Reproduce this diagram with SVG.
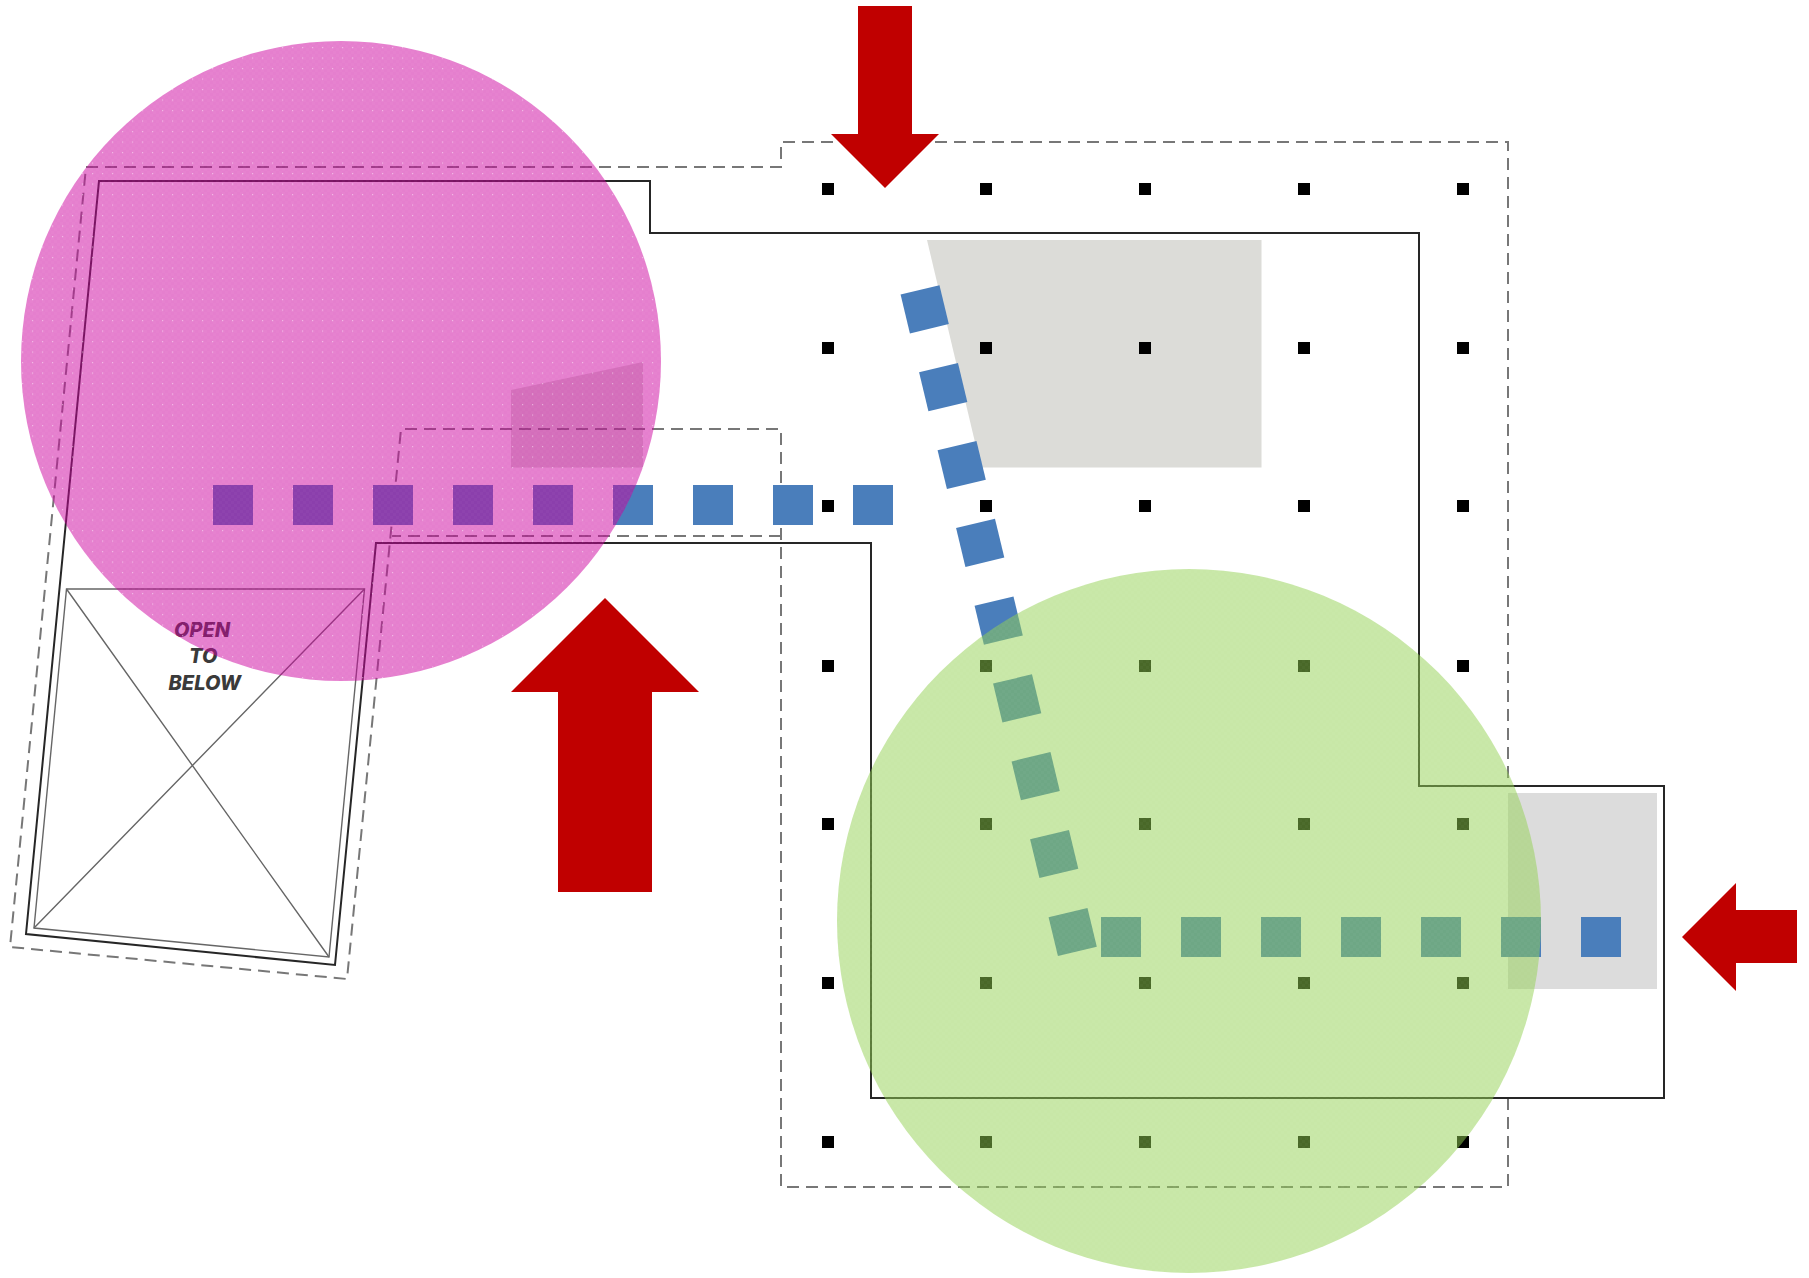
<svg xmlns="http://www.w3.org/2000/svg" width="1809" height="1278" viewBox="0 0 1809 1278">
<style>
.solid{fill:none;stroke:#262626;stroke-width:2}
.dash{fill:none;stroke:#777;stroke-width:2;stroke-dasharray:12 7}
.thin{fill:none;stroke:#666;stroke-width:1.4}
.col{fill:#000}
.blue{fill:#4a7ebb}
.red{fill:#c00000}
.lbl{font-family:Inter,Roboto,"Liberation Sans",sans-serif;font-weight:800;font-style:italic;font-size:20px;fill:#3a3a3a}
</style>
<defs>
<rect id="c" x="-6" y="-6" width="12" height="12"/>
<rect id="s" x="-20" y="-20" width="40" height="40"/>
<pattern id="pinkC" patternUnits="userSpaceOnUse" width="6" height="6">
<rect width="6" height="6" fill="#cc009e" fill-opacity=".5"/>
<rect width="3" height="3" fill="#fff" fill-opacity=".025"/>
<rect x="3" y="3" width="3" height="3" fill="#fff" fill-opacity=".025"/>
</pattern>
<pattern id="pinkD" patternUnits="userSpaceOnUse" width="10" height="10.500" x="2" y="5">
<rect width="1.200" height="1.200" fill="#fff" fill-opacity=".45"/>
</pattern>
<pattern id="greenC" patternUnits="userSpaceOnUse" width="6" height="6">
<rect width="6" height="6" fill="#92d050" fill-opacity=".5"/>
<rect width="3" height="3" fill="#fff" fill-opacity=".025"/>
<rect x="3" y="3" width="3" height="3" fill="#fff" fill-opacity=".025"/>
</pattern>
<mask id="noSq" maskUnits="userSpaceOnUse" x="0" y="0" width="1809" height="1278">
<rect width="1809" height="1278" fill="#fff"/>
<path fill="#000" d="M213,485h40v40h-40zM293,485h40v40h-40zM373,485h40v40h-40zM453,485h40v40h-40zM533,485h40v40h-40zM613,485h40v40h-40z"/>
</mask>
</defs>
<g id="floors">
<polygon id="floor-a" points="927,240 1261.500,240 1261.500,467.500 981,467.500" fill="#dcdcd8"/>
<polygon id="floor-b" points="511,390 643,362 643,467.500 511,467.500" fill="#dcdcd8"/>
<rect id="floor-c" x="1508" y="793" width="149" height="196" fill="#dcdcdc"/>
</g>
<g id="connectors">
<path class="dash" d="M86,167H781V142H1508V786"/>
<path class="dash" d="M1508,1098V1187H781V429H401L347,979L10,947L86,167"/>
<path class="dash" d="M781,536H392"/>
<path class="solid" d="M99,181H650V233H1419V786H1664V1098H871V543H376L335,965L26,934Z"/>
</g>
<g id="void">
<polygon class="thin" points="66.500,589 364.500,589 329,957 34,928"/>
<path class="thin" d="M66.500,589L329,957M364.500,589L34,928"/>
<text class="lbl" x="174" y="637">OPEN</text>
<text class="lbl" x="189" y="663">TO</text>
<text class="lbl" x="168.500" y="690">BELOW</text>
</g>
<g id="columns" class="col">
<use href="#c" x="828" y="189"/><use href="#c" x="986" y="189"/><use href="#c" x="1145" y="189"/><use href="#c" x="1304" y="189"/><use href="#c" x="1463" y="189"/>
<use href="#c" x="828" y="348"/><use href="#c" x="986" y="348"/><use href="#c" x="1145" y="348"/><use href="#c" x="1304" y="348"/><use href="#c" x="1463" y="348"/>
<use href="#c" x="828" y="506"/><use href="#c" x="986" y="506"/><use href="#c" x="1145" y="506"/><use href="#c" x="1304" y="506"/><use href="#c" x="1463" y="506"/>
<use href="#c" x="828" y="666"/><use href="#c" x="986" y="666"/><use href="#c" x="1145" y="666"/><use href="#c" x="1304" y="666"/><use href="#c" x="1463" y="666"/>
<use href="#c" x="828" y="824"/><use href="#c" x="986" y="824"/><use href="#c" x="1145" y="824"/><use href="#c" x="1304" y="824"/><use href="#c" x="1463" y="824"/>
<use href="#c" x="828" y="983"/><use href="#c" x="986" y="983"/><use href="#c" x="1145" y="983"/><use href="#c" x="1304" y="983"/><use href="#c" x="1463" y="983"/>
<use href="#c" x="828" y="1142"/><use href="#c" x="986" y="1142"/><use href="#c" x="1145" y="1142"/><use href="#c" x="1304" y="1142"/><use href="#c" x="1463" y="1142"/>
</g>
<g id="route" class="blue">
<use href="#s" x="233" y="505"/><use href="#s" x="313" y="505"/><use href="#s" x="393" y="505"/><use href="#s" x="473" y="505"/><use href="#s" x="553" y="505"/><use href="#s" x="633" y="505"/><use href="#s" x="713" y="505"/><use href="#s" x="793" y="505"/><use href="#s" x="873" y="505"/>
<use href="#s" transform="translate(924.700 309.300) rotate(-13.500)"/>
<use href="#s" transform="translate(943.200 387.100) rotate(-13.500)"/>
<use href="#s" transform="translate(961.700 465) rotate(-13.500)"/>
<use href="#s" transform="translate(980.200 542.800) rotate(-13.500)"/>
<use href="#s" transform="translate(998.700 620.600) rotate(-13.500)"/>
<use href="#s" transform="translate(1017.200 698.400) rotate(-13.500)"/>
<use href="#s" transform="translate(1035.700 776.200) rotate(-13.500)"/>
<use href="#s" transform="translate(1054.200 854) rotate(-13.500)"/>
<use href="#s" transform="translate(1072.700 932) rotate(-13.500)"/>
<use href="#s" x="1121" y="937"/><use href="#s" x="1201" y="937"/><use href="#s" x="1281" y="937"/><use href="#s" x="1361" y="937"/><use href="#s" x="1441" y="937"/><use href="#s" x="1521" y="937"/><use href="#s" x="1601" y="937"/>
</g>
<g id="zone-public">
<circle cx="341" cy="361" r="320" fill="url(#pinkC)"/>
<circle cx="341" cy="361" r="320" fill="url(#pinkD)" mask="url(#noSq)"/>
</g>
<g id="zone-green">
<circle cx="1189" cy="921" r="352" fill="url(#greenC)"/>
</g>
<g id="arrows" class="red">
<polygon id="arrow-top" points="858,6 912,6 912,134 939,134 885,188 831,134 858,134"/>
<polygon id="arrow-main" points="605,598 699,692 652,692 652,892 558,892 558,692 511,692"/>
<polygon id="arrow-right" points="1682,937 1736,883 1736,910 1797,910 1797,963 1736,963 1736,991"/>
</g>
</svg>
